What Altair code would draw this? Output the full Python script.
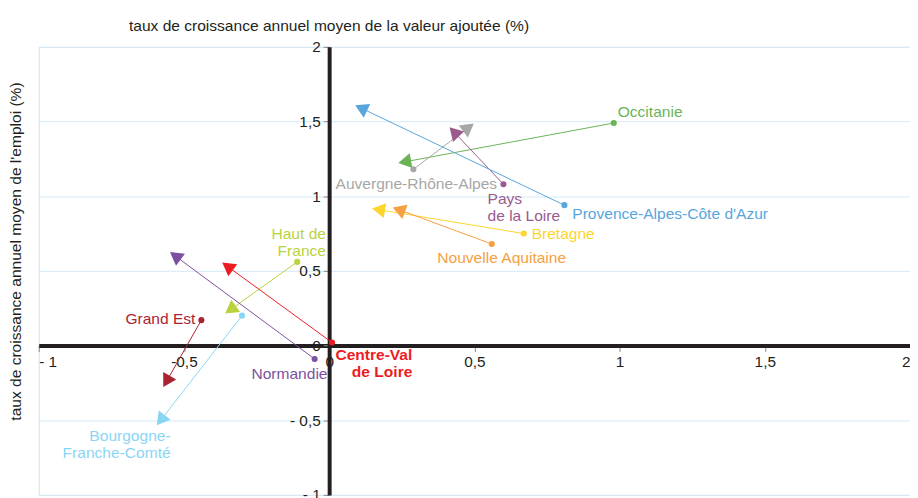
import altair as alt
import numpy as np
import pandas as pd

# ---- data ----
regions = ["Occitanie", "Auvergne-Rhône-Alpes", "Pays de la Loire",
           "Provence-Alpes-Côte d'Azur", "Bretagne", "Nouvelle Aquitaine",
           "Haut de France", "Normandie", "Centre-Val de Loire", "Grand Est",
           "Bourgogne-Franche-Comté"]
x_start = [0.98, 0.29, 0.60, 0.81, 0.67, 0.56, -0.11, -0.05, 0.01, -0.44, -0.30]
y_start = [1.49, 1.18, 1.08, 0.94, 0.75, 0.68, 0.56, -0.09, 0.02, 0.17, 0.20]
x_end = [0.26, 0.48, 0.43, 0.11, 0.17, 0.24, -0.34, -0.53, -0.35, -0.56, -0.58]
y_end = [1.23, 1.46, 1.43, 1.59, 0.91, 0.91, 0.24, 0.60, 0.53, -0.24, -0.50]
colors = ["#6ab457", "#a7a7a7", "#9b5a8e", "#58a6dc", "#fdd52c", "#f6a043",
          "#b9d33f", "#7c50a1", "#ed1c24", "#ab2331", "#8bd5f4"]
label_texts = ["Occitanie", "Auvergne-Rhône-Alpes", "Pays\nde la Loire",
               "Provence-Alpes-Côte d'Azur", "Bretagne", "Nouvelle Aquitaine",
               "Haut de\nFrance", "Normandie", "Centre-Val\nde Loire", "Grand Est",
               "Bourgogne-\nFranche-Comté"]
ticks = [-1, -0.5, 0, 0.5, 1, 1.5, 2]

x_title = "taux de croissance annuel moyen de la valeur ajoutée (%)"
y_title = "taux de croissance annuel moyen de l'emploi (%)"

# ---- layout / style ----
W, H = 879, 452
XMIN, XMAX, YMIN, YMAX = -1, 2, -1, 2
ux = W / (XMAX - XMIN)
uy = H / (YMAX - YMIN)
FONT = "Liberation Sans"
TXT = "#231f20"
GRID = "#d3eaf8"
FS = 15.7

# label placement: (anchor point, align, dx, dy of first line, bold)
label_place = {
    "Occitanie": ("start", "left", 4, -11, False),
    "Auvergne-Rhône-Alpes": ("start", "center", 3, 15, False),
    "Pays de la Loire": ("start", "left", -16, 15, False),
    "Provence-Alpes-Côte d'Azur": ("start", "left", 8, 9, False),
    "Bretagne": ("start", "left", 8, 1, False),
    "Nouvelle Aquitaine": ("start", "center", 10, 14, False),
    "Haut de France": ("start", "right", 29, -28, False),
    "Normandie": ("start", "right", 13, 15, False),
    "Centre-Val de Loire": ("start", "right", 81, 13, True),
    "Grand Est": ("start", "right", -6, -1, False),
    "Bourgogne-Franche-Comté": ("end", "right", 10, 16, False),
}

# arrowhead orientation in screen space (degrees clockwise from up)
dxp = (np.array(x_end) - np.array(x_start)) * ux
dyp = (np.array(y_end) - np.array(y_start)) * uy
angles = np.degrees(np.arctan2(dxp, dyp)) % 360

df = pd.DataFrame({
    "region": regions, "x0": x_start, "y0": y_start, "x1": x_end, "y1": y_end,
    "angle": angles, "label": label_texts,
})

xscale = alt.Scale(domain=[XMIN, XMAX], nice=False, zero=False)
yscale = alt.Scale(domain=[YMIN, YMAX], nice=False, zero=False)
color = alt.Color("region:N", scale=alt.Scale(domain=regions, range=colors), legend=None)

xaxis = alt.Axis(
    values=ticks, title=None, grid=False,
    offset=-(0 - YMIN) * uy,
    labelExpr="datum.value == -0.5 ? '-0,5' : replace(replace('' + datum.value, '.', ','), '-', '- ')",
    domainColor=TXT, domainWidth=4, tickColor="#8a8a8a", tickSize=6, tickWidth=1,
    labelFont=FONT, labelFontSize=15.5, labelColor=TXT, labelPadding=3,
)
yaxis = alt.Axis(
    values=ticks, title=y_title, grid=True, gridColor=GRID, gridWidth=1,
    offset=-(0 - XMIN) * ux,
    labelExpr="replace(replace('' + datum.value, '.', ','), '-', '- ')",
    domainColor=TXT, domainWidth=4, tickColor="#8a8a8a", tickSize=6, tickWidth=1,
    labelFont=FONT, labelFontSize=15.5, labelColor=TXT, labelPadding=3,
    titleFont=FONT, titleFontSize=FS, titleFontWeight="normal", titleColor=TXT,
    titleX=-(0 - XMIN) * ux - 15, titleY=206,
)

base = alt.Chart(df)

lines = base.mark_rule(strokeWidth=1).encode(
    x=alt.X("x0:Q", scale=xscale, axis=xaxis),
    y=alt.Y("y0:Q", scale=yscale, axis=yaxis),
    x2="x1:Q", y2="y1:Q", color=color,
)
heads = base.mark_point(shape="triangle-up", filled=True, opacity=1, size=230).encode(
    x=alt.X("x1:Q", scale=xscale, axis=xaxis),
    y=alt.Y("y1:Q", scale=yscale, axis=yaxis),
    angle=alt.Angle("angle:Q", scale=None), color=color,
)
dots = base.mark_circle(size=38, opacity=1).encode(
    x=alt.X("x0:Q", scale=xscale, axis=xaxis),
    y=alt.Y("y0:Q", scale=yscale, axis=yaxis),
    color=color,
)

layers = [lines, heads, dots]
for reg, (anchor, align, ddx, ddy, bold) in label_place.items():
    fx, fy = ("x0", "y0") if anchor == "start" else ("x1", "y1")
    layers.append(
        base.transform_filter(alt.datum.region == reg).mark_text(
            align=align, baseline="middle", dx=ddx, dy=ddy, font=FONT, fontSize=FS,
            lineBreak="\n", lineHeight=17,
            fontWeight="bold" if bold else "normal",
        ).encode(
            x=alt.X(f"{fx}:Q", scale=xscale, axis=xaxis),
            y=alt.Y(f"{fy}:Q", scale=yscale, axis=yaxis),
            text="label:N", color=color,
        )
    )

chart = alt.layer(*layers).properties(
    width=W, height=H,
    title=alt.TitleParams(x_title, anchor="start", dx=122, fontSize=FS, fontWeight="normal",
                          font=FONT, color=TXT, offset=5),
    autosize=alt.AutoSizeParams(type="none"),
    padding={"left": 31, "top": 37, "right": 0, "bottom": 8},
).configure_view(stroke=GRID, strokeWidth=1).configure(background="white")

chart.save("out.html", embed_options={"renderer": "svg", "actions": False})
